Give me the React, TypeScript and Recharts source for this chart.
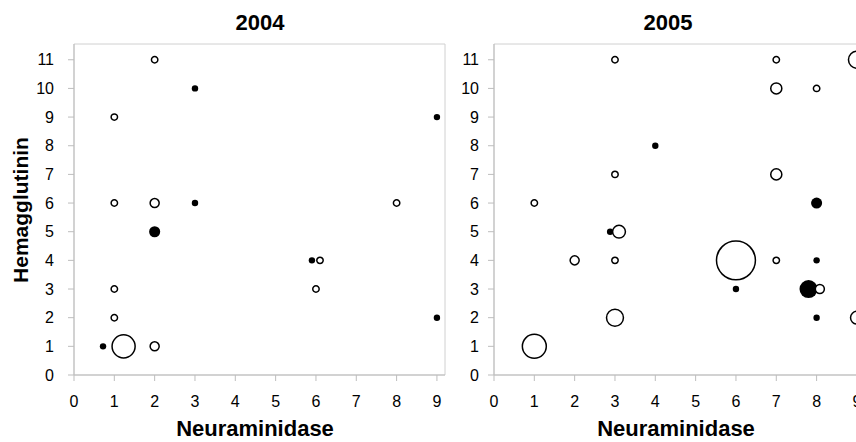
import { ScatterChart, Scatter, XAxis, YAxis, ZAxis, ReferenceArea } from 'recharts';

// [neuraminidase, hemagglutinin, count]
const filled2004: [number, number, number][] = [
    [3, 10, 1], [9, 9, 1], [3, 6, 1], [2, 5, 3], [5.9, 4, 1], [9, 2, 1], [0.72, 1, 1],
];
const open2004: [number, number, number][] = [
    [2, 11, 1], [1, 9, 1], [1, 6, 1], [2, 6, 2], [8, 6, 1], [6.1, 4, 1], [6, 3, 1],
    [1, 3, 1], [1, 2, 1], [1.23, 1, 13], [2, 1, 2],
];
const filled2005: [number, number, number][] = [
    [4, 8, 1], [8, 6, 3], [2.88, 5, 1], [8, 4, 1], [6, 3, 1], [7.8, 3, 8], [8, 2, 1],
];
const open2005: [number, number, number][] = [
    [3, 11, 1], [7, 11, 1], [9, 11, 7], [7, 10, 3], [8, 10, 1], [3, 7, 1], [7, 7, 3],
    [1, 6, 1], [3.1, 5, 4], [2, 4, 2], [3, 4, 1], [6, 4, 37], [7, 4, 1], [8.08, 3, 2],
    [3, 2, 7], [9, 2, 4], [1, 1, 14],
];

const xTicks = [0, 1, 2, 3, 4, 5, 6, 7, 8, 9];
const yTicks = [0, 1, 2, 3, 4, 5, 6, 7, 8, 9, 10, 11];

const FONT = '"Liberation Sans", Arial, sans-serif';
const AXIS = '#bdbdbd';
const UNIT_AREA = Math.PI * 3.2 * 3.2;

const toPoints = (rows: [number, number, number][]) => rows.map(([x, y, n]) => ({ x, y, n }));

function Panel({ filled, open, left, yTickMargin }: {
    filled: [number, number, number][];
    open: [number, number, number][];
    left: number;
    yTickMargin: number;
}) {
    return (
        <ScatterChart width={450} height={442} margin={{ top: 44, right: 450 - left - 40 - 371, bottom: 37, left }}>
            <ReferenceArea x1={0} x2={9.2} y1={0} y2={11.55} fill="none" stroke="#d0d0d0" strokeWidth={1} />
            <XAxis
                type="number"
                dataKey="x"
                domain={[0, 9.2]}
                ticks={xTicks}
                allowDataOverflow
                height={30}
                tickSize={6}
                tickMargin={15}
                axisLine={{ stroke: AXIS }}
                tickLine={{ stroke: AXIS }}
                tick={{ fill: '#000', fontSize: 16, fontFamily: FONT }}
            />
            <YAxis
                type="number"
                dataKey="y"
                domain={[0, 11.55]}
                ticks={yTicks}
                allowDataOverflow
                width={40}
                tickSize={6}
                tickMargin={yTickMargin}
                axisLine={{ stroke: AXIS }}
                tickLine={{ stroke: AXIS }}
                tick={{ fill: '#000', fontSize: 16, fontFamily: FONT }}
            />
            <ZAxis type="number" dataKey="n" domain={[0, 40]} range={[0, 40 * UNIT_AREA]} />
            <Scatter data={toPoints(filled)} fill="#000" isAnimationActive={false} />
            <Scatter data={toPoints(open)} fill="#fff" stroke="#000" strokeWidth={1.5} isAnimationActive={false} />
        </ScatterChart>
    );
}

const titleStyle = {
    position: 'absolute' as const,
    width: 200,
    textAlign: 'center' as const,
    fontFamily: FONT,
    fontWeight: 700,
    fontSize: 22,
    lineHeight: '24px',
    color: '#000',
};

export default function App() {
    return (
        <div style={{ position: 'fixed', left: 0, top: 0, width: 856, height: 442, overflow: 'hidden', background: '#fff' }}>
            <div style={{ position: 'absolute', left: 0, top: 0 }}>
                <Panel filled={filled2004} open={open2004} left={34} yTickMargin={14} />
            </div>
            <div style={{ position: 'absolute', left: 430, top: 0 }}>
                <Panel filled={filled2005} open={open2005} left={24} yTickMargin={9} />
            </div>
            <div style={{ ...titleStyle, left: 160, top: 11 }}>2004</div>
            <div style={{ ...titleStyle, left: 568, top: 11 }}>2005</div>
            <div style={{ ...titleStyle, left: 155, top: 417 }}>Neuraminidase</div>
            <div style={{ ...titleStyle, left: 576, top: 417 }}>Neuraminidase</div>
            <div style={{ ...titleStyle, fontSize: 21, left: -79, top: 198, transform: 'rotate(-90deg)' }}>Hemagglutinin</div>
        </div>
    );
}
